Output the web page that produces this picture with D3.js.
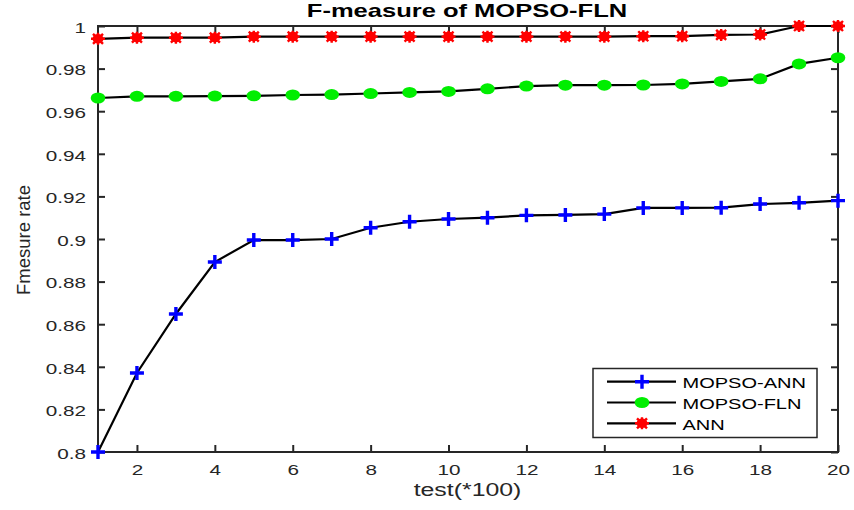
<!DOCTYPE html>
<html><head><meta charset="utf-8">
<script src="https://cdn.jsdelivr.net/npm/d3@7"></script>
<style>body{margin:0;background:#fff}svg{display:block}text{font-family:"Liberation Sans",Arial,sans-serif}</style>
</head><body><svg id="c" width="854" height="510"></svg>
<script>
const tests = d3.range(1, 21);
const mopsoAnn = [0.8, 0.8371, 0.8648, 0.8892, 0.8995, 0.8995, 0.9, 0.9053, 0.9081, 0.9094, 0.91, 0.9111, 0.9113, 0.9117, 0.9146, 0.9146, 0.9147, 0.9164, 0.917, 0.918];
const mopsoFln = [0.9662, 0.967, 0.967, 0.9671, 0.9672, 0.9676, 0.9678, 0.9683, 0.9688, 0.9693, 0.9705, 0.9718, 0.9722, 0.9722, 0.9723, 0.9728, 0.974, 0.9752, 0.9822, 0.9851];
const ann = [0.994, 0.9945, 0.9945, 0.9945, 0.995, 0.995, 0.995, 0.995, 0.995, 0.995, 0.995, 0.995, 0.995, 0.995, 0.9952, 0.9952, 0.9958, 0.996, 1, 1];
const xTicks = [2,4,6,8,10,12,14,16,18,20];
const yTicks = [0.8,0.82,0.84,0.86,0.88,0.9,0.92,0.94,0.96,0.98,1];
const seriesNames = ["MOPSO-ANN","MOPSO-FLN","ANN"];

const L=98,R=838,T=26,B=452;
const SX=1.38;
const svg=d3.select("#c");
const x=d3.scaleLinear().domain([1,20]).range([L,R]);
const y=d3.scaleLinear().domain([0.8,1]).range([B,T]);
const axCol="#262626";

const tl=7;
const gx=svg.append("g").attr("transform",`translate(0,${B})`).call(d3.axisBottom(x).tickValues(xTicks).tickSizeInner(-tl).tickSizeOuter(0).tickFormat(d3.format("d")));
const gxt=svg.append("g").attr("transform",`translate(0,${T})`).call(d3.axisTop(x).tickValues(xTicks).tickSizeInner(-tl).tickSizeOuter(0).tickFormat(""));
const gy=svg.append("g").attr("transform",`translate(${L},0)`).call(d3.axisLeft(y).tickValues(yTicks).tickSizeInner(-tl).tickSizeOuter(0).tickFormat(d=>d===1?"1":d3.format(".2f")(d).replace(/0$/,"")));
const gyr=svg.append("g").attr("transform",`translate(${R},0)`).call(d3.axisRight(y).tickValues(yTicks).tickSizeInner(-tl).tickSizeOuter(0).tickFormat(""));
[gx,gxt,gy,gyr].forEach(g=>{g.select(".domain").remove();g.selectAll("line").attr("stroke",axCol).attr("stroke-width",2);
 g.selectAll("text").attr("fill",axCol).style("font-size","15px");});
gx.selectAll("text").attr("y",23.5).attr("dy",0).attr("transform",`scale(${SX},1)`);
gy.selectAll("text").attr("x",-12/SX).attr("dy","0.42em").attr("transform",`scale(${SX},1)`);
svg.append("rect").attr("x",L).attr("y",T).attr("width",R-L).attr("height",B-T).attr("fill","none").attr("stroke",axCol).attr("stroke-width",2);

const line=d3.line().x((d,i)=>x(tests[i])).y(d=>y(d));
const data=[mopsoAnn,mopsoFln,ann];
data.forEach(s=>svg.append("path").datum(s).attr("d",line).attr("fill","none").attr("stroke","#000").attr("stroke-width",2.2));

function plus(g,cx,cy){g.append("path").attr("d",`M${cx-7},${cy}H${cx+7}M${cx},${cy-7}V${cy+7}`).attr("stroke","#0000ff").attr("stroke-width",3.4).attr("fill","none");}
function dot(g,cx,cy){g.append("ellipse").attr("cx",cx).attr("cy",cy).attr("rx",7.3).attr("ry",5.5).attr("fill","#00ee00");}
function star(g,cx,cy){g.append("ellipse").attr("cx",cx).attr("cy",cy).attr("rx",5.5).attr("ry",4.8).attr("fill","#ff0000");
 g.append("path").attr("d",`M${cx-7},${cy}H${cx+7}M${cx},${cy-6}V${cy+6}M${cx-5},${cy-5}L${cx+5},${cy+5}M${cx-5},${cy+5}L${cx+5},${cy-5}`).attr("stroke","#ff0000").attr("stroke-width",2.4);}
const mk=[plus,dot,star];
const gm=svg.append("g");
data.forEach((s,k)=>s.forEach((v,i)=>mk[k](gm,x(tests[i]),y(v))));

function wideText(xc,yb,txt,size,weight,anchor){
  return svg.append("text").attr("transform",`translate(${xc},${yb}) scale(${SX},1)`).attr("text-anchor",anchor||"middle")
   .style("font-size",size+"px").style("font-weight",weight||"normal").text(txt);
}
wideText(467,17,"F-measure of MOPSO-FLN",18.5,"bold").attr("fill","#000");
wideText(467.5,496,"test(*100)",18).attr("fill",axCol);
svg.append("text").attr("transform","translate(30,240) rotate(-90)").attr("text-anchor","middle").style("font-size","18.5px").attr("fill",axCol).text("Fmesure rate");

const lg=svg.append("g");
lg.append("rect").attr("x",593).attr("y",368.5).attr("width",224).attr("height",69).attr("fill","#fff").attr("stroke",axCol).attr("stroke-width",1.5);
seriesNames.forEach((n,k)=>{const ly=381.7+k*20.8;
 lg.append("line").attr("x1",607).attr("x2",676).attr("y1",ly).attr("y2",ly).attr("stroke","#000").attr("stroke-width",2.2);
 mk[k](lg,642,ly);
 lg.append("text").attr("transform",`translate(682.5,${ly+6.6}) scale(${SX},1)`).style("font-size","14.5px").attr("fill","#000").text(n);});
</script></body></html>
